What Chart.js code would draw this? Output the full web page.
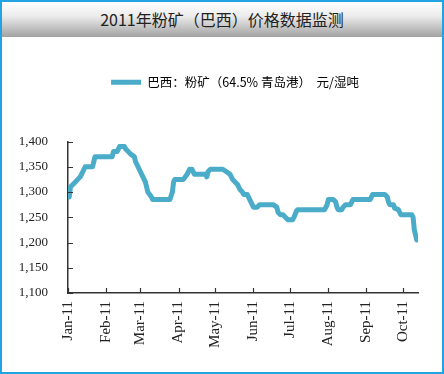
<!DOCTYPE html>
<html><head><meta charset="utf-8">
<script src="https://cdn.jsdelivr.net/npm/chart.js@4.4.0/dist/chart.umd.min.js"></script>
<style>
html,body{margin:0;padding:0;background:#fff;}
body{position:relative;width:444px;height:374px;overflow:hidden;}
#frame{position:absolute;left:0;top:0;width:444px;height:374px;box-sizing:border-box;border:2px solid #22a4e2;}
#titlebar{position:absolute;left:2px;top:2px;width:440px;height:35px;background:linear-gradient(#ffffff 0%,#ececec 40%,#a2a2a2 100%);font-family:"Noto Sans CJK SC";font-size:16px;line-height:34px;text-align:center;color:#222;}
#c{position:absolute;left:0;top:0;}
</style></head>
<body>
<div id="frame"></div>
<div id="titlebar">2011年粉矿（巴西）价格数据监测</div>
<canvas id="c" width="444" height="374"></canvas>
<script>
// day offset from 2011-01-01 and price (元/湿吨)
const days = [1,2,6,8,10,12,14,20,21,22,36,37,40,42,46,47,49,51,54,55,58,60,63,65,68,69,83,85,86,87,94,97,99,101,102,103,112,113,114,116,126,129,132,134,136,138,140,142,143,146,147,148,150,151,154,156,167,170,171,173,175,177,179,183,184,186,187,209,211,212,216,218,219,220,223,224,226,230,232,246,248,258,260,261,262,265,266,269,271,280,281,282,284];
const prices = [1290,1310,1320,1325,1330,1340,1350,1350,1360,1370,1370,1380,1380,1390,1390,1385,1380,1375,1370,1360,1345,1335,1320,1300,1290,1285,1285,1300,1320,1325,1325,1335,1345,1345,1340,1335,1335,1330,1340,1345,1345,1340,1335,1325,1320,1315,1305,1300,1295,1295,1290,1285,1275,1270,1270,1275,1275,1270,1260,1255,1255,1250,1245,1245,1250,1262,1265,1265,1275,1285,1285,1280,1270,1265,1265,1270,1275,1275,1285,1285,1295,1295,1290,1280,1275,1275,1268,1265,1255,1255,1250,1225,1205];
const monthTicks = [0,31,59,90,120,151,181,212,243,273];
const monthLabels = ['Jan-11','Feb-11','Mar-11','Apr-11','May-11','Jun-11','Jul-11','Aug-11','Sep-11','Oct-11'];
const seriesName = '巴西：粉矿（64.5% 青岛港）  元/湿吨';
const yTicks = [1100,1150,1200,1250,1300,1350,1400];

const lineColor = '#4aacc8';
const points = days.map((d,i)=>({x:d,y:prices[i]}));

const legendSpace = {
  id:'legendSpace',
  beforeInit(chart){
    const orig = chart.legend.fit;
    chart.legend.fit = function(){ orig.bind(chart.legend)(); this.height += 43; };
  },
  afterLayout(chart){
    chart.legend.left += 22; chart.legend.right += 22;
  }
};
const innerTicks = {
  id:'innerTicks',
  afterDraw(chart){
    const ctx = chart.ctx, xs = chart.scales.x, ys = chart.scales.y;
    ctx.save();
    ctx.strokeStyle = '#333'; ctx.lineWidth = 1.2;
    ctx.beginPath();
    xs.ticks.forEach(t=>{ const px = Math.round(xs.getPixelForValue(t.value))+0.5; ctx.moveTo(px, ys.bottom); ctx.lineTo(px, ys.bottom-5); });
    ys.ticks.forEach(t=>{ const py = Math.round(ys.getPixelForValue(t.value))+0.5; ctx.moveTo(xs.left, py); ctx.lineTo(xs.left+5, py); });
    ctx.stroke();
    ctx.restore();
  }
};

new Chart(document.getElementById('c'), {
  type:'line',
  data:{datasets:[{label:seriesName,data:points,borderColor:lineColor,backgroundColor:lineColor,borderWidth:5,pointRadius:0,tension:0,borderCapStyle:'round',borderJoinStyle:'round'}]},
  options:{
    responsive:false,animation:false,
    layout:{padding:{left:8,right:26,top:66,bottom:21}},
    plugins:{
      tooltip:{enabled:false},
      legend:{display:true,position:'top',align:'center',
        labels:{usePointStyle:true,pointStyle:'line',pointStyleWidth:30,boxHeight:5,color:'#000',padding:10,
          font:{family:'"Noto Sans CJK SC"',size:12.5}}}
    },
    scales:{
      x:{type:'linear',min:0,max:285,
        afterBuildTicks(s){ s.ticks = monthTicks.map(v=>({value:v})); },
        afterFit(s){ s.height = 60; },
        grid:{display:true,drawOnChartArea:false,drawTicks:false},
        border:{display:true,color:'#333',width:1.5},
        ticks:{autoSkip:false,maxRotation:90,minRotation:90,padding:8,color:'#222',
          font:{family:'"Liberation Serif"',size:15},
          callback(v){ const i = monthTicks.indexOf(v); return i>=0?monthLabels[i]:''; }}
      },
      y:{min:1100,max:1400,
        afterBuildTicks(s){ s.ticks = yTicks.map(v=>({value:v})); },
        afterFit(s){ s.width = 60; },
        grid:{display:true,drawOnChartArea:false,drawTicks:false},
        border:{display:true,color:'#333',width:1.5},
        ticks:{padding:20,color:'#222',font:{family:'"Liberation Serif"',size:13},
          callback(v){ return v.toLocaleString('en-US'); }}
      }
    }
  },
  plugins:[legendSpace,innerTicks]
});
</script>
</body></html>
